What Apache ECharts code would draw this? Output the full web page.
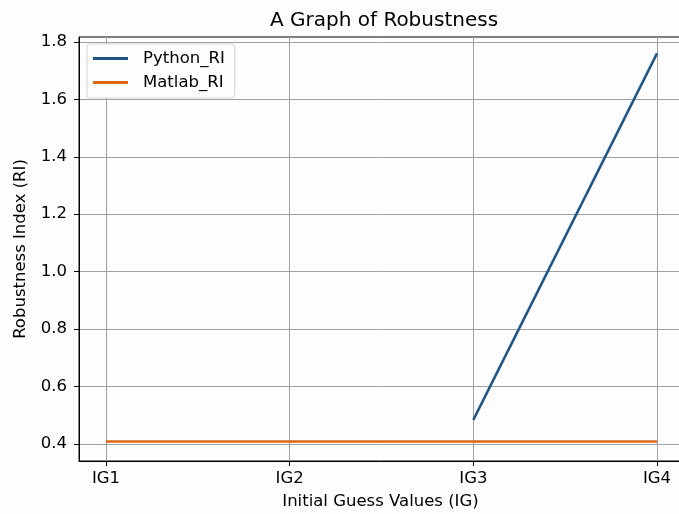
<!DOCTYPE html>
<html>
<head>
<meta charset="utf-8">
<script src="https://cdn.jsdelivr.net/npm/echarts@6/dist/echarts.min.js"></script>
<style>
  html, body { margin: 0; padding: 0; background: #fdfdfd; }
  #chart { width: 679px; height: 514px; }
</style>
</head>
<body>
<div id="chart"></div>
<script>
// Initial guesses on the x axis
const categories = ['IG1', 'IG2', 'IG3', 'IG4'];
// Robustness index per initial guess (null = no value)
const pythonRI = [null, null, 0.484, 1.76];
const matlabRI = [0.409, 0.409, 0.409, 0.409];
// Y tick values
const yTicks = [0.4, 0.6, 0.8, 1.0, 1.2, 1.4, 1.6, 1.8];

const toPairs = arr => arr.map((v, i) => [i, v]).filter(p => p[1] !== null);
const catIdx = categories.map((_, i) => i);

const font = 'DejaVu Sans';
const fs = 16.5;
const chart = echarts.init(document.getElementById('chart'), null, { renderer: 'canvas' });
chart.setOption({
  backgroundColor: '#fdfdfd',
  animation: false,
  textStyle: { fontFamily: font, color: '#000' },
  title: {
    text: 'A Graph of Robustness',
    left: 265,
    top: 6,
    textStyle: { fontFamily: font, fontSize: 20, fontWeight: 'normal', color: '#000' }
  },
  legend: {
    orient: 'vertical',
    left: 87,
    top: 44,
    padding: [6, 10, 7, 6],
    itemGap: 7,
    itemWidth: 35,
    itemHeight: 3,
    borderColor: '#d4d4d4',
    borderWidth: 1,
    borderRadius: 3,
    backgroundColor: '#fdfdfd',
    textStyle: { fontFamily: font, fontSize: fs, color: '#000', padding: [0, 0, 0, 10] },
    data: [
      { name: 'Python_RI', icon: 'rect' },
      { name: 'Matlab_RI', icon: 'rect' }
    ]
  },
  grid: {
    left: 79, right: -3, top: 37, bottom: 53,
    outerBoundsMode: 'none',
    show: true, borderColor: '#000', borderWidth: 1
  },
  xAxis: {
    type: 'value',
    min: -0.147,
    max: 3.136,
    name: 'Initial Guess Values (IG)',
    nameLocation: 'middle',
    nameGap: 32,
    nameTextStyle: { fontFamily: font, fontSize: fs, color: '#000' },
    axisLine: { show: true, onZero: false, lineStyle: { color: '#000', width: 1 } },
    axisTick: { show: true, length: 5, customValues: catIdx, lineStyle: { color: '#000' } },
    axisLabel: {
      customValues: catIdx,
      fontFamily: font, fontSize: fs, color: '#000', margin: 9,
      formatter: v => categories[Math.round(v)]
    },
    splitLine: { show: true, lineStyle: { color: '#a0a0a0', width: 1 } }
  },
  yAxis: {
    type: 'value',
    min: 0.3408,
    max: 1.817,
    name: 'Robustness Index (RI)',
    nameLocation: 'middle',
    nameGap: 50,
    nameTextStyle: { fontFamily: font, fontSize: fs, color: '#000' },
    axisLine: { show: true, onZero: false, lineStyle: { color: '#000', width: 1 } },
    axisTick: { show: true, length: 5, customValues: yTicks, lineStyle: { color: '#000' } },
    axisLabel: {
      customValues: yTicks,
      fontFamily: font, fontSize: fs, color: '#000', margin: 12,
      formatter: v => v.toFixed(1)
    },
    splitLine: { show: true, lineStyle: { color: '#a0a0a0', width: 1 } }
  },
  series: [
    {
      name: 'Python_RI',
      type: 'line',
      data: toPairs(pythonRI),
      symbol: 'none',
      lineStyle: { color: '#1f5487', width: 2.5 },
      itemStyle: { color: '#1f5487' }
    },
    {
      name: 'Matlab_RI',
      type: 'line',
      data: toPairs(matlabRI),
      symbol: 'none',
      lineStyle: { color: '#e0661a', width: 2.5 },
      itemStyle: { color: '#e0661a' }
    }
  ]
});
</script>
</body>
</html>
